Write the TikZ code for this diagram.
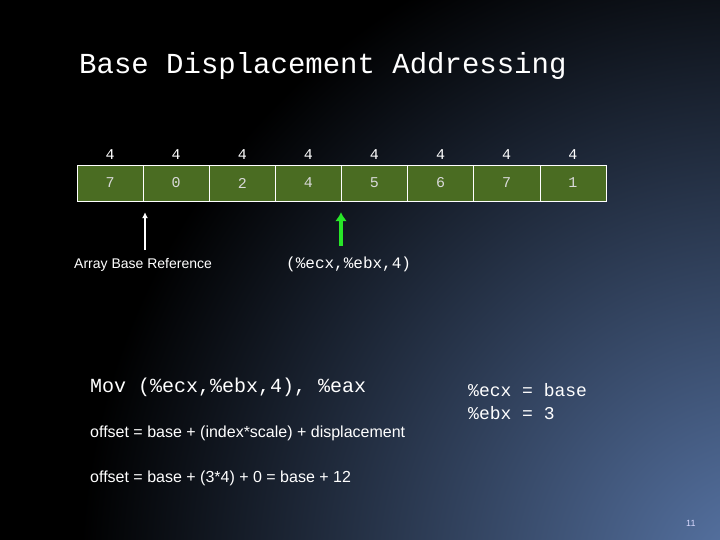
\documentclass[tikz,border=0pt]{standalone}
\usepackage{fontspec}
\usetikzlibrary{arrows.meta}
\setmainfont{Liberation Sans}
\setsansfont{Liberation Sans}
\setmonofont{Liberation Mono}
\begin{document}
\begin{tikzpicture}[x=1pt,y=-1pt,
  cell/.style={draw=white,fill=cellgreen,minimum width=66.1pt,minimum height=36pt,inner sep=0pt,font=\ttfamily\fontsize{15}{15}\selectfont,text=white!85!black},
  top/.style={text=white,font=\ttfamily\fontsize{15}{15}\selectfont},
  mono/.style={text=white,anchor=west,inner sep=0pt,font=\ttfamily},
  sans/.style={text=white,anchor=west,inner sep=0pt,font=\sffamily}]
\definecolor{cellgreen}{RGB}{74,108,34}
\definecolor{bgblue}{RGB}{90,120,170}
\definecolor{arrgreen}{RGB}{40,230,40}
\useasboundingbox (0,0) rectangle (720,540);
\fill[black] (0,0) rectangle (720,540);
\begin{scope}
\clip (0,0) rectangle (720,540);
\shade[inner color=bgblue,outer color=black] (760,580) circle (680);
\end{scope}
\node[mono,font=\ttfamily\fontsize{29}{29}\selectfont] (title) at (79,66) {Base Displacement Addressing};
\foreach \v [count=\i] in {7,0,2,4,5,6,7,1}{
  \node[cell] (c\i) at ({77+66.1*(\i-0.5)},183) {\v};
  \node[top] (t\i) at ({77+66.1*(\i-0.5)},155) {4};
}
\node[sans,font=\sffamily\fontsize{14}{14}\selectfont] (abr) at (74,265) {Array Base Reference};
\node[mono,font=\ttfamily\fontsize{16}{16}\selectfont] (reg) at (286,264) {(\%ecx,\%ebx,4)};
\coordinate (wa) at (145,250);
\coordinate (ga) at (341,246);
\draw[white,line width=1.5pt,shorten >=11pt,-{Latex[length=6pt,width=6pt]}] (wa) -- (wa|-c1.south);
\draw[arrgreen,line width=4pt,shorten >=11pt,-{Latex[length=9pt,width=12pt]}] (ga) -- (ga|-c4.south);
\node[mono,font=\ttfamily\fontsize{20}{20}\selectfont] (mov) at (90,387) {Mov (\%ecx,\%ebx,4), \%eax};
\node[mono,font=\ttfamily\fontsize{18}{18}\selectfont] (e1) at (468,390) {\%ecx = base};
\node[mono,font=\ttfamily\fontsize{18}{18}\selectfont] (e2) at (468,413) {\%ebx = 3};
\node[sans,font=\sffamily\fontsize{16}{16}\selectfont] (f1) at (90,433) {offset = base + (index*scale) + displacement};
\node[sans,font=\sffamily\fontsize{16}{16}\selectfont] (f2) at (90,478) {offset = base + (3*4) + 0 = base + 12};
\node[sans,font=\sffamily\fontsize{9}{9}\selectfont,text=white!85!blue] (pg) at (686,523) {11};
\end{tikzpicture}
\end{document}
